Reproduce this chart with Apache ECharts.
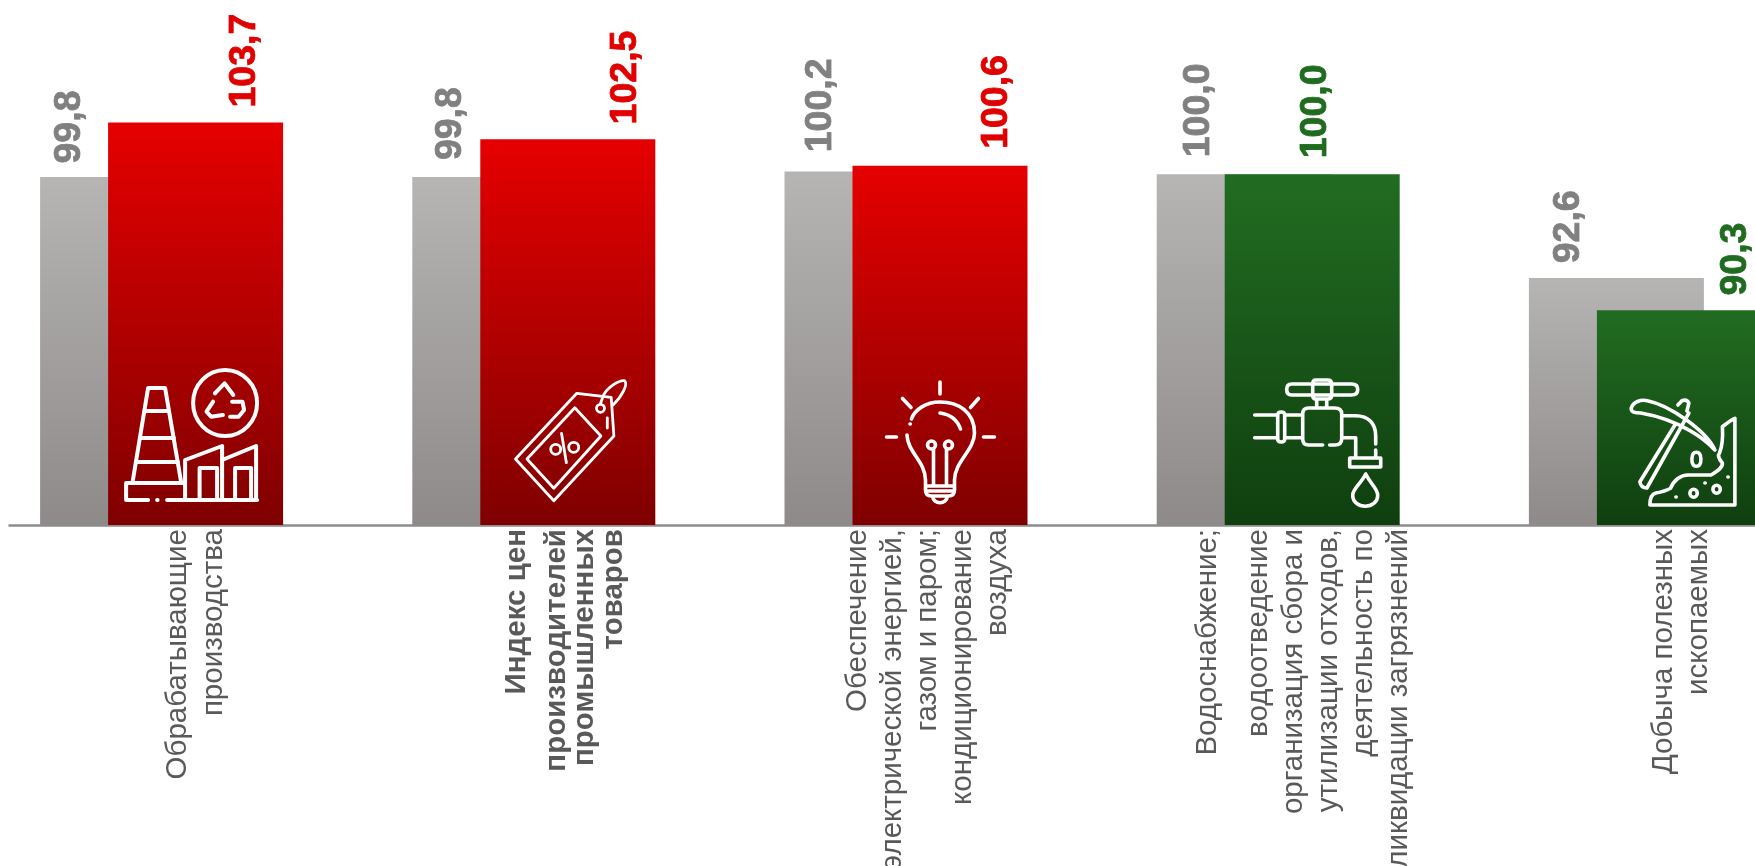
<!DOCTYPE html>
<html><head><meta charset="utf-8">
<style>html,body{margin:0;padding:0;background:#fff;overflow:hidden}#c{width:1755px;height:866px}</style>
<script src="https://cdn.jsdelivr.net/npm/echarts@6/dist/echarts.min.js"></script>
</head><body><div id="c"></div>
<script>
const categories = [
  "Обрабатывающие\nпроизводства",
  "Индекс цен\nпроизводителей\nпромышленных\nтоваров",
  "Обеспечение\nэлектрической энергией,\nгазом и паром;\nкондиционирование\nвоздуха",
  "Водоснабжение;\nводоотведение\nорганизация сбора и\nутилизации отходов,\nдеятельность по\nликвидации загрязнений",
  "Добыча полезных\nископаемых"
];
const boldCategory = [false, true, false, false, false];
const previousValues = [99.8, 99.8, 100.2, 100.0, 92.6];
const currentValues = [103.7, 102.5, 100.6, 100.0, 90.3];
const tones = ["red", "red", "red", "green", "green"];

const palette = {
  red: {top: "#e60000", bottom: "#7f0000", label: "#e00000"},
  green: {top: "#226c22", bottom: "#0f3f0f", label: "#1f6b1f"},
  gray: {top: "#b6b5b4", bottom: "#8e8a89", label: "#808080"}
};
const prevLabelShift = [-58, -49, -51, -46, -48];
const currLabelShift = [49, 58, 57, 3, 51];
const prevLabelLift = [13.6, 17, 19.2, 17, 14.8];
const currLabelLift = [14.8, 14.8, 17, 16, 14.8];

// rich-text line heights and padding for the category labels
const lineHeights = [
  [35.7, 35.7],
  [52, 28, 28, 29.4],
  [35, 35, 35, 35, 35],
  [66.4, 35, 35, 35, 35, 35],
  [35, 35]
];
const labelPad = [0, 15.6, 23.6, 34, 6.6];

const iconOrigins = [[195.5,525],[567.5,525],[939.5,525],[1311.5,525],[1683.5,525]];
const iconPaths = [
  "M132.5 482L148 388H165L181 482M144 411H169M140 438H174M136 462H178M184 483H126V500H148M157 500h.5M167 500H257M185 500V460L222 446V500M222 460L256 446V500M199.5 500V468H217V500M235 500V468H251V500M193 403A32 33 0 1 1 257 403A32 33 0 1 1 193 403M214.8 393.3L224.4 383.3L233.2 395M213 401.7L206.4 411.7L211 416.7L222.5 415M232 401.7H242.4L244 410L238.5 416.7H230M214.8 393.3h.3M222.5 415h.3M232 401.7h.3",
  "M515.2 459L576.5 393.3L610.9 397.3L613.6 436L553.5 500.7ZM526.7 459L574.5 407.7L600.6 436L553.5 488.3ZM561.2 433.3L566.1 462.7M550.4 449.3a5 5 0 1 0 10 0a5 5 0 1 0 -10 0M568.4 447.3a5 5 0 1 0 10 0a5 5 0 1 0 -10 0M596.2 408.3a4 4 0 1 0 8 0a4 4 0 1 0 -8 0M600 404L603.3 395C607 388 618 380 624.3 380.7C628 384 622 396 612.8 405M607 418V428",
  "M939.5 382V394M902 398.5L910.5 407.5M978 398.5L970 407.5M886 437H896M983 437H994M906.5 435C907 452 925 462 925 480V486M954 486V480C954 462 974 450 974 433C974 412 958 402 939.5 402C925 402 914 410 911 419M925 486H954V490Q954 496 948 496H931Q925 496 925 490ZM925 491H954M932 496C933 505 946 505 947 496M933 449V485M946 449V485M927 445a4 4 0 1 0 8 0a4 4 0 1 0 -8 0M944 445a4 4 0 1 0 8 0a4 4 0 1 0 -8 0M939.5 413Q955 415 960 429M909.5 424h.3",
  "M1291 384H1351Q1357 384 1357 389.5Q1357 395 1351 395H1291Q1286 395 1286 389.5Q1286 384 1291 384ZM1315 380H1327Q1331 380 1331 384V395Q1331 399 1327 399H1315Q1312 399 1312 395V384Q1312 380 1315 380ZM1316 399V408M1326 399V408M1322 445H1308Q1302 445 1302 439V414Q1302 408 1308 408H1334Q1341 408 1341 414V439Q1341 445 1334 445H1329M1254 415H1277M1254 437.7H1277M1277 415Q1277 412 1280.5 412Q1284 412 1284 415V439Q1284 442 1280.5 442Q1277 442 1277 439ZM1284 415H1302M1284 437.7H1302M1341 415.7H1355C1368 415.7 1375 424 1375 436V444M1341 437.7H1355V457M1375 450V457M1349 458H1380V467H1349ZM1365 474C1360 484 1352 489 1352 495C1352 510 1377 510 1377 495C1377 489 1370 484 1365 474Z",
  "M1630.3 408.3C1632 402 1640 399 1646.5 400.7C1668 405 1705 430 1714 450C1705 440 1680 420 1640 413C1634 413 1630 412 1630.3 408.3ZM1677 405L1681 400.7Q1686 399 1688 403L1686 411M1674 425L1639 481.7Q1640 488 1646 488L1688 413M1734 418.3V505H1649C1649 498 1651 494 1655 493C1661 492 1665 491 1669.6 488.3C1673 480 1680 475 1687 475H1710C1715 472 1722 468 1721.5 463C1717 458 1717 455 1718.6 453C1722 445 1722 435 1721.5 426.7C1725 424 1730 420 1734 418.3ZM1695.5 452.3C1692 452.3 1691 456 1691 459.3C1691 463 1692 466.3 1695.5 466.3C1699 466.3 1700 463 1700 459.3C1700 456 1699 452.3 1695.5 452.3ZM1689 493.3a3.7 4 0 1 0 7.4 0a3.7 4 0 1 0 -7.4 0M1712 489.3a3.7 4 0 1 0 7.4 0a3.7 4 0 1 0 -7.4 0M1727 477h.3M1704 483h.3M1675 497h.3"
];

const fmt = v => v.toFixed(1).replace(".", ",");
const grad = c => new echarts.graphic.LinearGradient(0, 0, 0, 1, [{offset: 0, color: c.top}, {offset: 1, color: c.bottom}]);
const valueLabel = (color, shift, lift) => ({
  show: true, position: "top", distance: 0, rotate: 90, align: "left", verticalAlign: "middle",
  offset: [lift, shift], color, fontFamily: "Liberation Sans", fontSize: 37.5, fontWeight: "bold",
  textBorderColor: color, textBorderWidth: 0.8,
  formatter: p => fmt(p.value)
});

const rich = {};
lineHeights.forEach((hs, i) => hs.forEach((h, j) => {
  rich["c" + i + "l" + j] = {
    lineHeight: h, align: "right", height: h,
    fontFamily: "Liberation Sans", fontSize: 29.5, color: "#595959",
    fontWeight: boldCategory[i] ? "bold" : "normal"
  };
}));
const lineMarkup = (text, i) => text.split("\n").map((t, j) => "{c" + i + "l" + j + "|" + t + "}").join("\n");

const chart = echarts.init(document.getElementById("c"), null, {renderer: "canvas"});
const gridBox = {top: 34, height: 491, width: 1861, outerBoundsMode: "none"};
const hiddenX = {type: "category", gridIndex: 1, data: categories, show: false};
chart.setOption({
  animation: false,
  backgroundColor: "#fff",
  grid: [
    Object.assign({left: 9.5}, gridBox),
    Object.assign({left: -58.5}, gridBox)
  ],
  xAxis: [
    {
      type: "category", gridIndex: 0,
      data: categories.map((c, i) => ({value: c, textStyle: {padding: [0, 0, labelPad[i], 0]}})),
      axisLine: {show: true, lineStyle: {color: "#8c8c8c", width: 2.5}},
      axisTick: {show: false},
      axisLabel: {
        show: true, interval: 0, rotate: 90, margin: 4, hideOverlap: false,
        fontFamily: "Liberation Sans", fontSize: 29.5, color: "#595959", rich,
        formatter: (v, i) => lineMarkup(v, i)
      }
    },
    hiddenX
  ],
  yAxis: [
    {type: "value", gridIndex: 0, min: 75, max: 110, show: false},
    {type: "value", gridIndex: 1, min: 75, max: 110, show: false}
  ],
  series: [
    {
      type: "bar", name: "prev", xAxisIndex: 1, yAxisIndex: 1, barWidth: 175, z: 2,
      data: previousValues.map((v, i) => ({
        value: v, itemStyle: {color: grad(palette.gray)},
        label: valueLabel(palette.gray.label, prevLabelShift[i], prevLabelLift[i])
      }))
    },
    {
      type: "bar", name: "curr", xAxisIndex: 0, yAxisIndex: 0, barWidth: 175, z: 3,
      data: currentValues.map((v, i) => ({
        value: v, itemStyle: {color: grad(palette[tones[i]])},
        label: valueLabel(palette[tones[i]].label, currLabelShift[i], currLabelLift[i])
      }))
    },
    {
      type: "custom", name: "icons", xAxisIndex: 0, yAxisIndex: 0, z: 5, silent: true,
      data: categories.map((c, i) => [i, 75]),
      renderItem: (params, api) => {
        const i = api.value(0);
        const p = api.coord([i, 75]);
        return {
          type: "path",
          x: p[0] - iconOrigins[i][0],
          y: p[1] - iconOrigins[i][1],
          shape: {pathData: iconPaths[i]},
          style: {fill: "none", stroke: "#fff", lineWidth: i === 1 ? 2.8 : (i === 0 ? 4 : 3.6), lineCap: "round", lineJoin: "round"}
        };
      }
    }
  ]
});
</script></body></html>
